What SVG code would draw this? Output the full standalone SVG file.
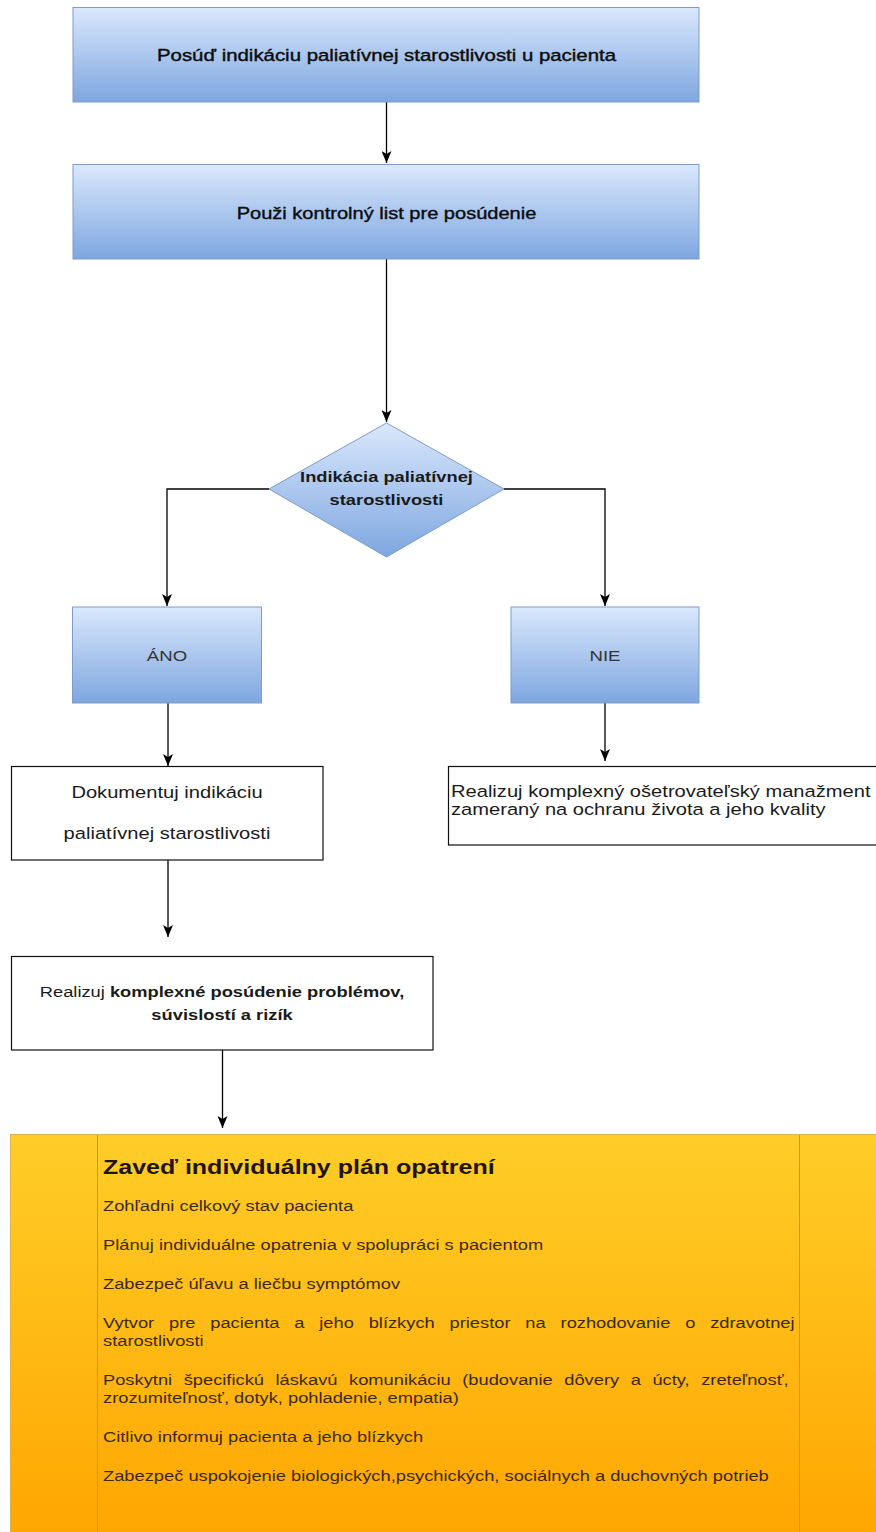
<svg xmlns="http://www.w3.org/2000/svg" width="876" height="1532" viewBox="0 0 876 1532">
<defs>
<linearGradient id="blue" x1="0" y1="0" x2="0" y2="1"><stop offset="0" stop-color="#dae8fc"/><stop offset="1" stop-color="#7ea6e0"/></linearGradient>
<linearGradient id="orange" x1="0" y1="0" x2="0" y2="1"><stop offset="0" stop-color="#ffcd28"/><stop offset="1" stop-color="#ffa500"/></linearGradient>
<marker id="arr" markerWidth="12" markerHeight="10" refX="12" refY="5" orient="auto" markerUnits="userSpaceOnUse"><path d="M0,0 L12,5 L0,10 L3,5 z" fill="#000"/></marker>
<style>
.blue{fill:url(#blue);stroke:#7f9cc6;stroke-width:1}
.white{fill:#fff;stroke:#111;stroke-width:1.2}
.t{font-family:"Liberation Sans",Arial,sans-serif;fill:#1a1a1a}
.k{fill:#0d0d0d;stroke:#0d0d0d;stroke-width:0.4}
.b{font-weight:bold}
.c{text-anchor:middle}
.g{fill:#333}
.edge{fill:none;stroke:#000;stroke-width:1.3;marker-end:url(#arr)}
.o{font-family:"Liberation Sans",Arial,sans-serif;font-size:15px;fill:#3a2a08}
.ot{font-family:"Liberation Sans",Arial,sans-serif;font-size:20.5px;font-weight:bold;fill:#1f1505}
.oline{stroke:#c99a1a;stroke-width:1;fill:none}
</style>
</defs>
<rect x="0" y="0" width="876" height="1532" fill="#fff"/>

<g id="connectors">
<path class="edge" d="M386.5,102 V163"/>
<path class="edge" d="M386.5,259 V422"/>
<path class="edge" d="M269,489 H167 V606"/>
<path class="edge" d="M504,489 H605 V606"/>
<path class="edge" d="M168,703 V766"/>
<path class="edge" d="M605,703 V761"/>
<path class="edge" d="M168,860 V937"/>
<path class="edge" d="M222.5,1050 V1128"/>
</g>

<g id="n-posud">
<rect class="blue" x="73" y="7.5" width="626" height="94.5"/>
<text class="t k c" font-size="17" transform="matrix(1.2 0 0 1 386.5 61)">Posúď indikáciu paliatívnej starostlivosti u pacienta</text>
</g>

<g id="n-pouzi">
<rect class="blue" x="73" y="164.5" width="626" height="94.5"/>
<text class="t k c" font-size="17" transform="matrix(1.18 0 0 1 386.5 219)">Použi kontrolný list pre posúdenie</text>
</g>

<g id="n-indikacia">
<polygon class="blue" points="386.5,423 504,489 386.5,557 269,489"/>
<text class="t b c" font-size="15" fill="#1c2b3a" transform="matrix(1.22 0 0 1 386.5 482)">Indikácia paliatívnej</text>
<text class="t b c" font-size="15" fill="#1c2b3a" transform="matrix(1.22 0 0 1 386.5 505)">starostlivosti</text>
</g>

<g id="n-ano">
<rect class="blue" x="72.5" y="607" width="189" height="96"/>
<text class="t g c" font-size="15.5" transform="matrix(1.2 0 0 1 167 661)">ÁNO</text>
</g>

<g id="n-nie">
<rect class="blue" x="511" y="607" width="188" height="96"/>
<text class="t g c" font-size="15.5" transform="matrix(1.2 0 0 1 605 661)">NIE</text>
</g>

<g id="n-dokumentuj">
<rect class="white" x="11.5" y="766.5" width="311.5" height="93.5"/>
<text class="t c" font-size="16.5" transform="matrix(1.22 0 0 1 167 798)">Dokumentuj indikáciu</text>
<text class="t c" font-size="16.5" transform="matrix(1.22 0 0 1 167 839)">paliatívnej starostlivosti</text>
</g>

<g id="n-realizuj-nie">
<rect class="white" x="448.5" y="766.5" width="440" height="78.5"/>
<text class="t" font-size="16.5" transform="matrix(1.22 0 0 1 451 797)">Realizuj komplexný ošetrovateľský manažment</text>
<text class="t" font-size="16.5" transform="matrix(1.22 0 0 1 451 815)">zameraný na ochranu života a jeho kvality</text>
</g>

<g id="n-realizuj-posudenie">
<rect class="white" x="11.5" y="956.5" width="421.5" height="93.5"/>
<text class="t c" font-size="15" transform="matrix(1.22 0 0 1 222 997)">Realizuj <tspan class="b">komplexné posúdenie problémov,</tspan></text>
<text class="t b c" font-size="15" transform="matrix(1.22 0 0 1 222 1020)">súvislostí a rizík</text>
</g>

<g id="n-plan">
<rect x="10.5" y="1134.5" width="880" height="410" fill="url(#orange)" stroke="#d9b24a" stroke-width="1"/>
<line class="oline" x1="97.5" y1="1135" x2="97.5" y2="1532"/>
<line class="oline" x1="799.5" y1="1135" x2="799.5" y2="1532"/>
<g transform="matrix(1.22 0 0 1 103 0)">
<text class="ot" x="0" y="1174">Zaveď individuálny plán opatrení</text>
<text class="o" x="0" y="1211">Zohľadni celkový stav pacienta</text>
<text class="o" x="0" y="1250">Plánuj individuálne opatrenia v spolupráci s pacientom</text>
<text class="o" x="0" y="1289">Zabezpeč úľavu a liečbu symptómov</text>
<text class="o" x="0" y="1328" word-spacing="8">Vytvor pre pacienta a jeho blízkych priestor na rozhodovanie o zdravotnej</text>
<text class="o" x="0" y="1346">starostlivosti</text>
<text class="o" x="0" y="1385" word-spacing="5.3">Poskytni špecifickú láskavú komunikáciu (budovanie dôvery a úcty, zreteľnosť,</text>
<text class="o" x="0" y="1403">zrozumiteľnosť, dotyk, pohladenie, empatia)</text>
<text class="o" x="0" y="1442">Citlivo informuj pacienta a jeho blízkych</text>
<text class="o" x="0" y="1481">Zabezpeč uspokojenie biologických,psychických, sociálnych a duchovných potrieb</text>
</g>
</g>
</svg>
